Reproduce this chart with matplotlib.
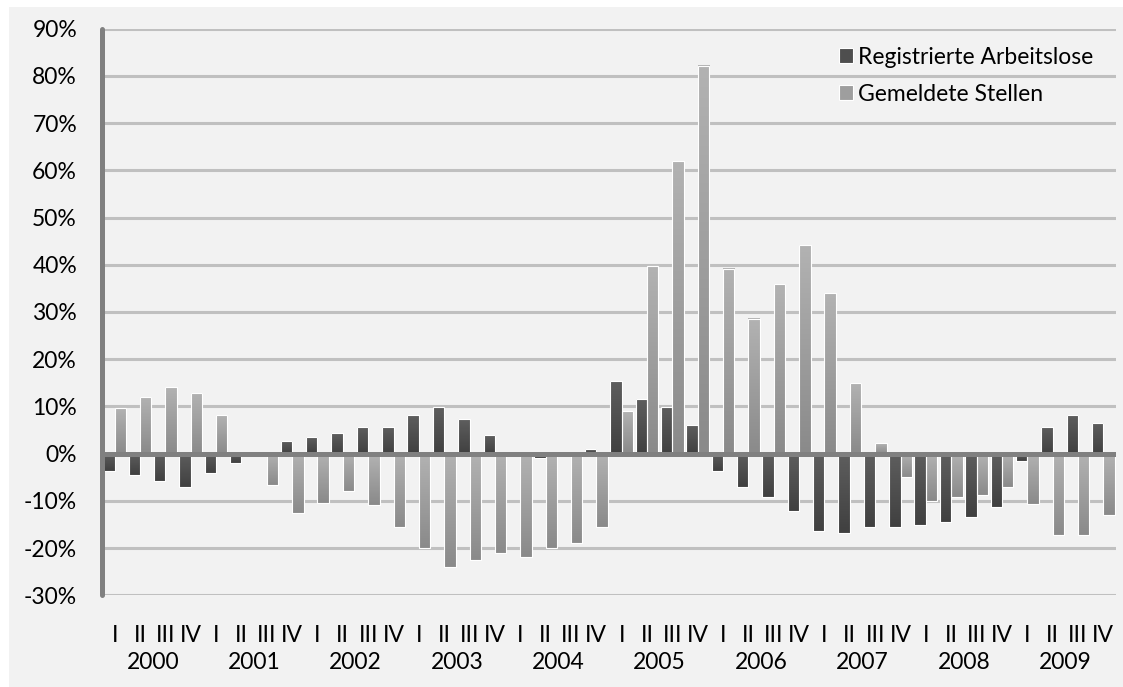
import numpy as np
import matplotlib
matplotlib.use("Agg")
import matplotlib.pyplot as plt
from matplotlib.patches import Rectangle, Patch
from matplotlib.colors import LinearSegmentedColormap

plt.rcParams['font.family'] = ['Lato', 'DejaVu Sans']

jahre = ['2000', '2001', '2002', '2003', '2004', '2005', '2006', '2007', '2008', '2009']
quartale = ['I', 'II', 'III', 'IV']

# Veraenderung gegenueber Vorjahresquartal in %
arbeitslose = [-3.7, -4.6, -5.8, -7.0, -4.1, -2.0, 0.0, 2.7, 3.5, 4.4,
               5.6, 5.6, 8.2, 9.9, 7.3, 3.9, 0.0, -1.0, 0.0, 1.0,
               15.4, 11.5, 9.9, 6.1, -3.7, -7.0, -9.2, -12.2, -16.4, -16.8,
               -15.6, -15.6, -15.1, -14.4, -13.5, -11.4, -1.5, 5.6, 8.2, 6.5]
stellen = [9.6, 12.0, 14.1, 12.9, 8.2, 0.0, -6.6, -12.5, -10.4, -7.9,
           -10.8, -15.5, -19.9, -24.0, -22.6, -21.1, -21.8, -19.9, -18.9, -15.5,
           9.0, 39.7, 62.0, 82.2, 39.2, 28.6, 35.9, 44.2, 34.0, 15.0,
           2.3, -4.9, -10.0, -9.2, -8.7, -7.0, -10.6, -17.3, -17.3, -13.0]

W, H = 1123, 687
fig = plt.figure(figsize=(W / 100, H / 100), dpi=100)
fig.patch.set_facecolor('white')
fig.patches.append(Rectangle((9 / W, 0), 1 - 9 / W, 1 - 7 / H, transform=fig.transFigure,
                             facecolor='#f2f2f2', edgecolor='none', zorder=-10))

ax = fig.add_axes([102 / W, 1 - 595.3 / H, (1116 - 102) / W, (595.3 - 28.7) / H])
ax.set_facecolor('none')
ax.set_zorder(1)

x = np.arange(len(arbeitslose))
bw = 0.45
bars_a = ax.bar(x - bw / 2, arbeitslose, bw, facecolor='none', edgecolor='white', lw=0.8, zorder=3)
bars_s = ax.bar(x + bw / 2, stellen, bw, facecolor='none', edgecolor='white', lw=0.8, zorder=3)

grad = np.linspace(0, 1, 64).reshape(-1, 1)
cm_a = LinearSegmentedColormap.from_list('a', ['#5e5e5e', '#404040'])
cm_s = LinearSegmentedColormap.from_list('s', ['#b2b2b2', '#8a8a8a'])
for bars, cm in [(bars_a, cm_a), (bars_s, cm_s)]:
    for p in bars:
        x0, y0, w, h = p.get_x(), p.get_y(), p.get_width(), p.get_height()
        if h == 0:
            continue
        ax.imshow(grad, cmap=cm, aspect='auto', interpolation='bilinear',
                  extent=(x0, x0 + w, min(y0, y0 + h), max(y0, y0 + h)), zorder=2)

ax.set_xlim(-0.5, len(x) - 0.5)
ax.set_ylim(-30, 90)

# Gitter und Achsen
ax.set_yticks(np.arange(-30, 91, 10))
ax.set_yticklabels([f'{v}%' for v in range(-30, 91, 10)])
ax.grid(axis='y', color='#c0c0c0', lw=2.2, zorder=1)
ax.set_axisbelow(True)
ax.axhline(0, color='#808080', lw=3.6, zorder=5)
for s in ['top', 'right', 'bottom']:
    ax.spines[s].set_visible(False)
ax.spines['left'].set_color('#808080')
ax.spines['left'].set_linewidth(3.6)
ax.spines['left'].set_capstyle('round')
ax.spines['left'].set_zorder(6)

fs = 16.5
ax.set_xticks(x)
ax.set_xticklabels(quartale * len(jahre))
ax.set_xticks(np.arange(len(jahre)) * 4 + 1.5, minor=True)
ax.set_xticklabels(jahre, minor=True)
ax.tick_params(axis='x', which='major', length=0, pad=21.5, labelsize=fs)
ax.tick_params(axis='x', which='minor', length=0, pad=40.5, labelsize=fs)
ax.tick_params(axis='y', length=0, pad=18, labelsize=fs)

handles = [Patch(facecolor='#4e4e4e', edgecolor='white', lw=0.8),
           Patch(facecolor='#9e9e9e', edgecolor='white', lw=0.8)]
fig.legend(handles, ['Registrierte Arbeitslose', 'Gemeldete Stellen'],
           loc='upper left', bbox_to_anchor=(839 / W, 1 - 47 / H), frameon=False,
           fontsize=fs, borderpad=0, borderaxespad=0, handlelength=0.63, handleheight=0.63,
           handletextpad=0.22, labelspacing=0.7)

fig.savefig('out.png', dpi=100)
